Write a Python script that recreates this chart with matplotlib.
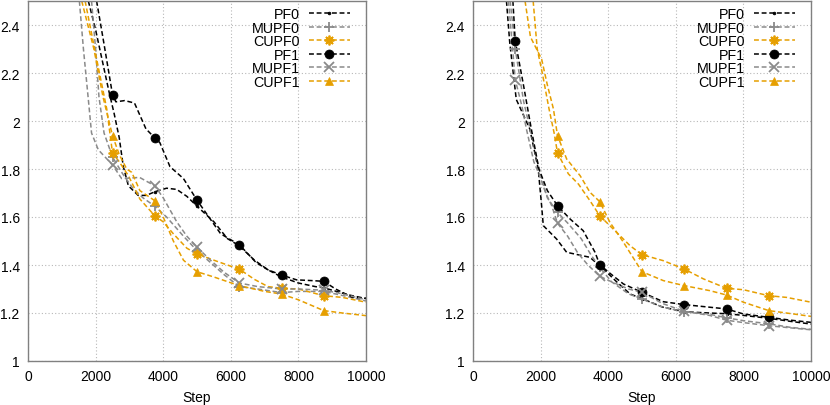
import numpy as np
import matplotlib
matplotlib.use('Agg')
import matplotlib.pyplot as plt
from matplotlib.lines import Line2D

plt.rcParams['font.family'] = ['Liberation Sans', 'DejaVu Sans']
plt.rcParams['font.size'] = 10

# steps where gnuplot puts a point symbol
marker_steps = [1250, 2500, 3750, 5000, 6250, 7500, 8750]
x_ticks = [0, 2000, 4000, 6000, 8000, 10000]
y_ticks = [1, 1.2, 1.4, 1.6, 1.8, 2, 2.2, 2.4]
series_names = ['PF0', 'MUPF0', 'CUPF0', 'PF1', 'MUPF1', 'CUPF1']

# ---- left panel ----
left_pf0_x = [1785, 2000, 2200, 2400, 2550, 2700, 2820, 2970, 3260, 3500, 3750, 4100, 4400, 4700,
              5000, 5500, 5900, 6250, 6700, 7100, 7500, 8000, 8500, 8750, 9000, 9500, 10000]
left_pf0_y = [2.5, 2.38, 2.25, 2.12, 2.03, 1.93, 1.81, 1.73, 1.69, 1.69, 1.705, 1.72, 1.715, 1.686,
              1.645, 1.58, 1.51, 1.48, 1.42, 1.38, 1.35, 1.325, 1.31, 1.305, 1.295, 1.275, 1.26]

left_mupf0_x = [1880, 2000, 2100, 2250, 2500, 2800, 3100, 3400, 3750, 4100, 4600, 5000, 5400, 5800,
                6250, 6800, 7500, 8000, 8750, 9400, 10000]
left_mupf0_y = [2.5, 2.3, 2.1, 1.95, 1.85, 1.78, 1.72, 1.68, 1.645, 1.6, 1.52, 1.46, 1.41, 1.36,
                1.31, 1.3, 1.285, 1.29, 1.29, 1.27, 1.25]

left_cupf0_x = [1690, 2000, 2330, 2500, 2700, 2970, 3310, 3750, 4000, 4300, 4700, 5000, 5500, 6000,
                6250, 6700, 7100, 7500, 8000, 8750, 9300, 10000]
left_cupf0_y = [2.5, 2.28, 2.05, 1.867, 1.83, 1.772, 1.675, 1.605, 1.58, 1.53, 1.47, 1.446, 1.42, 1.395,
                1.383, 1.34, 1.31, 1.303, 1.30, 1.272, 1.265, 1.245]

left_pf1_x = [2030, 2250, 2500, 2600, 2860, 3150, 3490, 3750, 3900, 4200, 4600, 5000, 5400, 5700,
              6000, 6250, 6750, 7100, 7500, 7950, 8400, 8750, 9100, 9600, 10000]
left_pf1_y = [2.5, 2.32, 2.11, 2.08, 2.085, 2.075, 1.967, 1.93, 1.91, 1.81, 1.76, 1.67, 1.59, 1.53,
              1.505, 1.485, 1.41, 1.38, 1.358, 1.338, 1.335, 1.332, 1.30, 1.265, 1.262]

left_mupf1_x = [1520, 1640, 1785, 1880, 2080, 2500, 2770, 3300, 3750, 4000, 4400, 4700, 5000, 5400,
                5800, 6250, 6800, 7500, 8000, 8750, 9300, 10000]
left_mupf1_y = [2.5, 2.3, 2.09, 1.95, 1.88, 1.817, 1.76, 1.765, 1.73, 1.68, 1.58, 1.52, 1.474, 1.42,
                1.37, 1.325, 1.31, 1.30, 1.30, 1.295, 1.28, 1.255]

left_cupf1_x = [1590, 1950, 2220, 2500, 2700, 2920, 3070, 3310, 3750, 4000, 4300, 4600, 5000, 5500,
                6250, 7000, 7500, 8000, 8750, 9300, 10000]
left_cupf1_y = [2.5, 2.3, 2.1, 1.939, 1.86, 1.80, 1.786, 1.71, 1.668, 1.6, 1.5, 1.42, 1.372, 1.35,
                1.314, 1.29, 1.279, 1.255, 1.21, 1.2, 1.189]

# ---- right panel ----
right_pf0_x = [990, 1085, 1280, 1680, 1930, 2030, 2080, 2475, 2770, 3460, 3860, 4250, 4650, 5000,
               5600, 6250, 7000, 7500, 8000, 8750, 9400, 10000]
right_pf0_y = [2.5, 2.33, 2.09, 1.967, 1.8, 1.647, 1.564, 1.508, 1.453, 1.432, 1.383, 1.33, 1.279, 1.26,
               1.225, 1.205, 1.2, 1.197, 1.19, 1.178, 1.165, 1.154]

right_mupf0_x = [1100, 1250, 1500, 1750, 1950, 2200, 2500, 2800, 3200, 3500, 3750, 4100, 4600, 5000,
                 5600, 6250, 7000, 7500, 8000, 8750, 9400, 10000]
right_mupf0_y = [2.5, 2.3, 2.08, 1.93, 1.8, 1.68, 1.619, 1.575, 1.51, 1.44, 1.39, 1.33, 1.28, 1.258,
                 1.225, 1.205, 1.195, 1.18, 1.168, 1.155, 1.14, 1.132]

right_cupf0_x = [1780, 1900, 2050, 2250, 2400, 2500, 2820, 3120, 3460, 3750, 4250, 4650, 5000, 5630,
                 6250, 6820, 7500, 8000, 8750, 9280, 10000]
right_cupf0_y = [2.5, 2.3, 2.2, 2.05, 1.95, 1.867, 1.78, 1.737, 1.668, 1.605, 1.536, 1.48, 1.443, 1.418,
                 1.383, 1.342, 1.303, 1.297, 1.272, 1.265, 1.245]

right_pf1_x = [1180, 1250, 1480, 1725, 1950, 2200, 2500, 2870, 3260, 3610, 3750, 4100, 4450, 5000,
               5630, 6250, 7010, 7500, 8000, 8750, 9400, 10000]
right_pf1_y = [2.5, 2.333, 2.16, 1.967, 1.8, 1.71, 1.647, 1.592, 1.543, 1.453, 1.401, 1.36, 1.321, 1.286,
               1.247, 1.235, 1.224, 1.217, 1.196, 1.182, 1.17, 1.161]

right_mupf1_x = [1050, 1250, 1450, 1580, 1800, 1950, 2150, 2330, 2500, 2800, 3100, 3400, 3750, 4100,
                 4600, 5000, 5600, 6250, 7000, 7500, 8000, 8750, 9400, 10000]
right_mupf1_y = [2.5, 2.172, 2.06, 1.967, 1.83, 1.78, 1.70, 1.647, 1.574, 1.52, 1.45, 1.40, 1.353, 1.33,
                 1.30, 1.286, 1.24, 1.207, 1.19, 1.17, 1.16, 1.147, 1.138, 1.13]

right_cupf1_x = [1540, 1700, 1880, 2030, 2200, 2380, 2500, 2770, 3170, 3460, 3750, 4050, 4450, 5000,
                 5630, 6250, 7010, 7500, 8000, 8750, 10000]
right_cupf1_y = [2.5, 2.35, 2.3, 2.258, 2.15, 2.05, 1.939, 1.842, 1.772, 1.703, 1.664, 1.578, 1.495, 1.372,
                 1.335, 1.314, 1.293, 1.275, 1.245, 1.21, 1.186]

left_data = [(left_pf0_x, left_pf0_y), (left_mupf0_x, left_mupf0_y), (left_cupf0_x, left_cupf0_y),
             (left_pf1_x, left_pf1_y), (left_mupf1_x, left_mupf1_y), (left_cupf1_x, left_cupf1_y)]
right_data = [(right_pf0_x, right_pf0_y), (right_mupf0_x, right_mupf0_y), (right_cupf0_x, right_cupf0_y),
              (right_pf1_x, right_pf1_y), (right_mupf1_x, right_mupf1_y), (right_cupf1_x, right_cupf1_y)]

black = '#000000'
gray = '#8a8a8a'
orange = '#e69f00'
colors = [black, gray, orange, black, gray, orange]
markers = ['.', '+', (8, 2, 0), 'o', 'x', '^']
msizes = [4, 7, 7, 6.5, 7, 5.5]
dash = (0, (3.2, 1.8))
lw = 1.1

fig = plt.figure(figsize=(8.3, 4.06), dpi=100)
ax_left = fig.add_axes([28 / 830, 1 - 362 / 406, 338 / 830, 360 / 406])
ax_right = fig.add_axes([473 / 830, 1 - 362 / 406, 338 / 830, 360 / 406])

for ax, data in [(ax_left, left_data), (ax_right, right_data)]:
    for (xs, ys), c, m, ms in zip(data, colors, markers, msizes):
        xs = np.array(xs)
        ys = np.array(ys)
        ax.plot(xs, ys, color=c, lw=lw, linestyle=dash, zorder=2)
        sel = np.isin(xs, marker_steps)
        ax.plot(xs[sel], ys[sel], linestyle='none', marker=m, color=c, markersize=ms,
                markeredgewidth=1.3 if m not in ('o', '^', '.') else 0.5, zorder=3)

    ax.set_xlim(0, 10000)
    ax.set_ylim(1, 2.5)
    ax.set_xticks(x_ticks)
    ax.set_yticks(y_ticks)
    ax.set_yticklabels(['%g' % v for v in y_ticks])
    ax.tick_params(length=0, pad=6, labelsize=10)
    ax.grid(True, linestyle=(0, (1, 2)), color='#b8b8b8', lw=0.8)
    ax.set_axisbelow(True)
    for sp in ax.spines.values():
        sp.set_color('#808080')
        sp.set_linewidth(1.0)
    ax.set_xlabel('Step', labelpad=5)

    handles = [Line2D([], [], color=c, lw=lw, linestyle=dash, marker=m, markersize=ms,
                      markeredgewidth=1.3 if m not in ('o', '^', '.') else 0.5)
               for c, m, ms in zip(colors, markers, msizes)]
    ax.legend(handles, series_names, loc='upper right', bbox_to_anchor=(1 - 16 / 338, 0.983),
              frameon=False, markerfirst=False, numpoints=1, handlelength=2.9,
              handletextpad=0.6, labelspacing=-0.03, borderpad=0, borderaxespad=0, fontsize=10.3)

plt.savefig('out.png', dpi=100)
